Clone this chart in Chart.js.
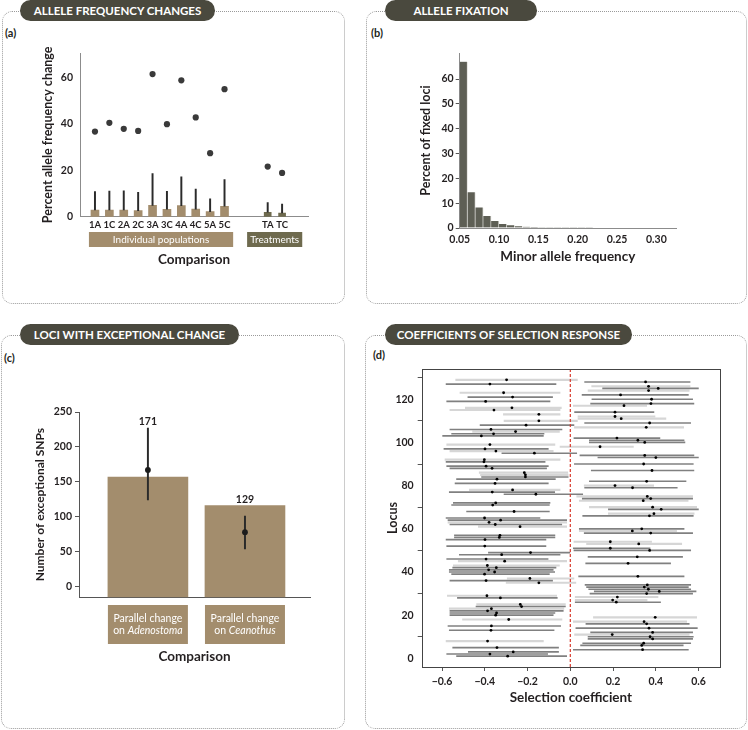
<!DOCTYPE html>
<html>
<head>
<meta charset="utf-8">
<script src="https://cdn.jsdelivr.net/npm/chart.js@4.4.1/dist/chart.umd.min.js"></script>
<style>
  body { margin: 0; width: 748px; height: 730px; background: #fff; position: relative; overflow: hidden; font-family: Lato, sans-serif; color: #231f20; }
  .panel { position: absolute; box-sizing: border-box; border: 1px dotted #9a9a9a; border-radius: 10px; }
  .pill { position: absolute; height: 21px; line-height: 21px; border-radius: 11px; background: #4a493e; color: #fff; font-size: 11.5px; font-weight: bold; text-align: center; }
  .tag { position: absolute; font-size: 11px; font-weight: bold; }
  canvas { position: absolute; }
</style>
</head>
<body>
<div class="panel" style="left:2px;top:11px;width:343px;height:293px"></div>
<div class="panel" style="left:366px;top:11px;width:381px;height:293px"></div>
<div class="panel" style="left:1px;top:335px;width:344px;height:394px"></div>
<div class="panel" style="left:365px;top:335px;width:382px;height:394px"></div>

<div class="pill" style="left:20px;top:0;width:195px">ALLELE FREQUENCY CHANGES</div>
<div class="pill" style="left:385px;top:0;width:152px">ALLELE FIXATION</div>
<div class="pill" style="left:20px;top:324px;width:219px">LOCI WITH EXCEPTIONAL CHANGE</div>
<div class="pill" style="left:385px;top:324px;width:247px">COEFFICIENTS OF SELECTION RESPONSE</div>

<div class="tag" style="left:5px;top:26px">(a)</div>
<div class="tag" style="left:371px;top:26px">(b)</div>
<div class="tag" style="left:4px;top:351px">(c)</div>
<div class="tag" style="left:373px;top:348px">(d)</div>

<canvas id="chart-a" width="344" height="280" style="left:0;top:22px"></canvas>
<canvas id="chart-b" width="380" height="280" style="left:366px;top:22px"></canvas>
<canvas id="chart-c" width="343" height="382" style="left:1px;top:346px"></canvas>
<canvas id="chart-d" width="381" height="382" style="left:365px;top:346px"></canvas>

<script>
// (a) allele frequency change per comparison
const popLabels = ['1A', '1C', '2A', '2C', '3A', '3C', '4A', '4C', '5A', '5C']
const popMean = [2.9, 2.9, 2.9, 2.6, 4.9, 3.2, 4.8, 3.3, 2.2, 4.5]
const popUpper = [10.8, 11.1, 11.2, 10.5, 18.6, 10.9, 17.2, 11.9, 7.7, 16.0]
const popMax = [36.7, 40.5, 37.9, 37.0, 61.5, 39.9, 58.8, 42.8, 27.4, 55.0]
const trtLabels = ['TA', 'TC']
const trtMean = [1.9, 1.6]
const trtUpper = [6.1, 5.4]
const trtMax = [21.6, 18.9]
const yTicksA = [0, 20, 40, 60]

// (b) allele fixation histogram (bin left edges, % of fixed loci)
const mafBins = [0.05, 0.06, 0.07, 0.08, 0.09, 0.10, 0.11, 0.12, 0.13, 0.14, 0.15, 0.16, 0.17,
  0.18, 0.19, 0.20, 0.21, 0.22, 0.23, 0.24, 0.25, 0.26, 0.27, 0.28, 0.29, 0.30]
const fixedPct = [67, 14.4, 8.3, 4.8, 2.8, 1.6, 1.1, 0.7, 0.5, 0.4, 0.35, 0.3, 0.3,
  0.3, 0.3, 0.3, 0.3, 0.25, 0.25, 0.25, 0.25, 0.2, 0.2, 0.2, 0.2, 0.2]
const xTicksB = [0.05, 0.10, 0.15, 0.20, 0.25, 0.30]
const yTicksB = [0, 10, 20, 30, 40, 50, 60]

// (c) loci with exceptional change
const hostNames = ['Adenostoma', 'Ceanothus']
const obsSNPs = [157, 116]
const expMean = [167, 78]
const expLo = [124, 54]
const expHi = [227, 101]
const countLabels = ['171', '129']
const yTicksC = [0, 50, 100, 150, 200, 250]

// (d) selection coefficients per locus (estimate, interval, shade l = light / d = dark)
const locus = [129, 128, 127, 126, 125, 124, 123, 122, 121, 120, 119, 118, 117, 116, 115, 114, 113, 112, 111, 110,
  109, 108, 107, 106, 105, 104, 103, 102, 101, 100, 99, 98, 97, 96, 95, 94, 93, 92, 91, 90,
  89, 88, 87, 86, 85, 84, 83, 82, 81, 80, 79, 78, 77, 76, 75, 74, 73, 72, 71, 70,
  69, 68, 67, 66, 65, 64, 63, 62, 61, 60, 59, 58, 57, 56, 55, 54, 53, 52, 51, 50,
  49, 48, 47, 46, 45, 44, 43, 42, 41, 40, 39, 38, 37, 36, 35, 34, 33, 32, 31, 30,
  29, 28.4, 28, 27, 26, 25, 24, 23, 22, 21, 20, 19, 18, 17, 16, 15, 14, 13, 12, 11,
  10, 9, 8, 7, 6, 5, 4, 3, 2, 1]
const selCoef = [-0.298, 0.352, -0.376, 0.366, 0.411, 0.366, -0.312, 0.235, -0.27, 0.38,
  -0.396, 0.377, 0.251, -0.273, -0.357, 0.209, -0.147, 0.209, 0.238, -0.147,
  0.371, -0.207, 0.355, -0.371, -0.256, -0.359, -0.416, 0.218, 0.316, 0.348,
  -0.376, 0.139, -0.399, -0.348, -0.168, 0.348, 0.4, -0.402, -0.404, 0.343,
  -0.394, -0.366, 0.382, -0.215, -0.21, -0.21, -0.343, 0.357, -0.352, 0.209,
  0.291, -0.27, -0.365, -0.161, 0.36, 0.376, 0.341, -0.349, -0.363, 0.385,
  0.425, -0.263, 0.391, 0.37, -0.401, -0.326, -0.38, -0.351, -0.235, 0.334,
  0.29, 0.376, -0.329, -0.332, -0.399, 0.187, 0.32, -0.4, 0.187, 0.371,
  -0.186, -0.321, 0.313, -0.394, -0.307, 0.27, -0.388, -0.346, -0.382, -0.354,
  -0.401, 0.316, -0.189, -0.394, -0.147, 0.36, 0.346, 0.365, 0.416, 0.357,
  -0.39, 0.22, -0.327, 0.198, 0.215, -0.234, -0.228, -0.369, -0.387, -0.345,
  -0.349, 0.397, -0.288, 0.345, 0.357, -0.369, 0.368, -0.371, 0.385, 0.196,
  0.373, 0.385, -0.387, 0.343, 0.334, -0.343, 0.338, -0.267, -0.376, -0.293]
const selLo = [-0.536, 0.067, -0.581, 0.10, 0.151, 0.083, -0.516, 0.055, -0.479, 0.101,
  -0.578, 0.095, 0.014, -0.491, -0.563, 0.02, -0.313, 0.036, 0.036, -0.31,
  0.067, -0.422, 0.019, -0.563, -0.457, -0.555, -0.597, 0.017, 0.089, 0.089,
  -0.578, -0.048, -0.591, -0.563, -0.32, 0.045, 0.129, -0.586, -0.581, 0.019,
  -0.578, -0.563, 0.098, -0.426, -0.42, -0.415, -0.532, 0.089, -0.539, 0.065,
  0.067, -0.472, -0.566, -0.31, 0.03, 0.056, 0.042, -0.547, -0.555, 0.089,
  0.178, -0.485, 0.178, 0.058, -0.581, -0.572, -0.572, -0.563, -0.43, 0.042,
  0.042, 0.065, -0.542, -0.542, -0.581, 0.017, 0.076, -0.578, 0.014, 0.017,
  -0.383, -0.519, 0.083, -0.578, -0.524, 0.072, -0.547, -0.55, -0.566, -0.566,
  -0.555, 0.039, -0.295, -0.563, -0.30, 0.069, 0.076, 0.086, 0.112, 0.092,
  -0.575, 0.023, -0.528, 0.023, 0.023, -0.438, -0.441, -0.566, -0.563, -0.563,
  -0.563, 0.108, -0.504, 0.014, 0.073, -0.572, 0.026, -0.566, 0.095, 0.02,
  0.083, 0.083, -0.581, 0.058, 0.048, -0.55, 0.014, -0.477, -0.578, -0.532]
const selHi = [0.033, 0.56, -0.067, 0.56, 0.599, 0.556, -0.048, 0.552, -0.083, 0.572,
  -0.095, 0.578, 0.357, -0.042, -0.048, 0.391, -0.048, 0.396, 0.447, 0.033,
  0.563, 0.017, 0.53, -0.039, -0.051, -0.123, -0.126, 0.419, 0.532, 0.536,
  -0.072, 0.295, -0.103, -0.08, 0.03, 0.578, 0.599, -0.048, -0.118, 0.575,
  -0.103, -0.111, 0.578, -0.012, -0.01, -0.01, -0.07, 0.541, -0.103, 0.39,
  0.5, -0.048, -0.073, 0.058, 0.572, 0.572, 0.551, -0.095, -0.098, 0.591,
  0.599, -0.098, 0.579, 0.575, -0.142, -0.017, -0.017, -0.04, -0.017, 0.532,
  0.497, 0.572, -0.072, -0.072, -0.114, 0.38, 0.521, -0.114, 0.373, 0.563,
  -0.002, -0.048, 0.525, -0.104, -0.017, 0.469, -0.051, -0.067, -0.08, -0.073,
  -0.098, 0.532, 0.017, -0.083, 0.026, 0.563, 0.552, 0.563, 0.588, 0.572,
  -0.064, 0.41, -0.061, 0.359, 0.422, -0.023, -0.023, -0.03, -0.033, -0.072,
  -0.08, 0.591, -0.039, 0.544, 0.556, -0.045, 0.594, -0.076, 0.572, 0.556,
  0.575, 0.572, -0.126, 0.563, 0.528, -0.055, 0.552, -0.055, -0.106, -0.017]
const selShade = ('lddldllddd' + 'ddllldllll' + 'ddldlddddd' + 'lldldddldd' + 'dddllddddl' +
  'dlddldlddl' + 'ddldddldld' + 'lddddllddd' + 'ddddldlddd' + 'ddldlddddd' +
  'lldldldldd' + 'dllldddddl' + 'ddlddddddd').split('')
const refLineX = 0
const xTicksD = [-0.6, -0.4, -0.2, 0, 0.2, 0.4, 0.6]
const yTicksD = [0, 20, 40, 60, 80, 100, 120]

// ---- shared look
const TAN = '#a38d6d', OLIVE = '#6e6a4e', HIST = '#5e5f55', INK = '#231f20', AXIS = '#8c8c8c'
Chart.defaults.font.family = 'Lato, sans-serif'
Chart.defaults.color = INK
Chart.defaults.animation = false
Chart.defaults.plugins.legend.display = false
Chart.defaults.plugins.tooltip.enabled = false

const tickFont = { size: 10.5, weight: 'bold' }
const titleFont = { size: 13.5, weight: 'bold' }
const yTitleFont = { size: 12.5, weight: 'bold' }

function el(id) { return document.getElementById(id) }
const fixWidth = w => s => { s.width = w }
const fixHeight = h => s => { s.height = h }
const setTicks = values => s => { s.ticks = values.map(v => ({ value: v })) }
const noGrid = { display: false, drawTicks: false }
const tickMarks = { display: true, drawOnChartArea: false, drawTicks: true, tickLength: 4, color: '#555' }

// Filled boxes under an axis, with centred white text (parts may be italic)
const labelBoxes = {
  id: 'labelBoxes',
  afterDraw(chart, _args, opts) {
    if (!opts.boxes) return
    const { ctx, scales: { x } } = chart
    ctx.save()
    opts.boxes.forEach(b => {
      let left, right
      if (b.to != null) { left = x.getPixelForValue(b.from); right = x.getPixelForValue(b.to) }
      else { left = x.getPixelForValue(b.from) - b.width / 2; right = left + b.width }
      ctx.fillStyle = b.color
      ctx.fillRect(left, opts.top, right - left, opts.height)
      ctx.fillStyle = '#fff'
      ctx.textBaseline = 'middle'
      ctx.textAlign = 'left'
      const lh = opts.lineHeight || 12
      const y0 = opts.top + opts.height / 2 - (b.lines.length - 1) * lh / 2
      b.lines.forEach((parts, k) => {
        const fonts = parts.map(p => `${p[1] ? 'italic ' : ''}${opts.fontSize}px Lato, sans-serif`)
        const widths = parts.map((p, j) => { ctx.font = fonts[j]; return ctx.measureText(p[0]).width })
        let cx = (left + right) / 2 - widths.reduce((a, w) => a + w, 0) / 2
        parts.forEach((p, j) => { ctx.font = fonts[j]; ctx.fillText(p[0], cx, y0 + k * lh); cx += widths[j] })
      })
    })
    ctx.restore()
  }
}

// ---- (a)
const gapA = 2                       // empty slots between populations and treatments
const xA = i => i < popLabels.length ? i : i + gapA
const allLabels = [...popLabels, ...trtLabels]
const allMean = [...popMean, ...trtMean]
const allUpper = [...popUpper, ...trtUpper]
const allMax = [...popMax, ...trtMax]
const labelAt = {}
allLabels.forEach((l, i) => { labelAt[xA(i)] = l })

new Chart(el('chart-a'), {
  type: 'bar',
  data: {
    datasets: [
      { data: popMean.map((v, i) => ({ x: xA(i), y: v })), backgroundColor: TAN, barThickness: 8, grouped: false, order: 3 },
      { data: trtMean.map((v, i) => ({ x: xA(popLabels.length + i), y: v })), backgroundColor: OLIVE, barThickness: 7, grouped: false, order: 3 },
      { data: allMean.map((v, i) => ({ x: xA(i), y: [v, allUpper[i]] })), backgroundColor: '#2b2b2b', barThickness: 1.3, grouped: false, order: 2 },
      { type: 'scatter', data: allMax.map((v, i) => ({ x: xA(i), y: v })), pointRadius: 3.1, backgroundColor: '#3a3a3a', borderWidth: 0, order: 1 }
    ]
  },
  options: {
    responsive: false,
    layout: { padding: { top: 31, right: 36, left: 0, bottom: 0 } },
    scales: {
      x: {
        type: 'linear', min: -1.04, max: 14.8, offset: false,
        grid: noGrid, border: { color: AXIS },
        afterBuildTicks: setTicks(Object.keys(labelAt).map(Number)),
        ticks: { padding: 3, font: { size: 9.5, weight: 'bold' }, color: INK, autoSkip: false, maxRotation: 0, callback: v => labelAt[v] },
        title: { display: true, text: 'Comparison', font: titleFont, color: INK, padding: { top: 0, bottom: 34 } },
        afterFit: fixHeight(85.3)
      },
      y: {
        min: 0, max: 70.6,
        grid: noGrid, border: { color: AXIS },
        afterBuildTicks: setTicks(yTicksA),
        ticks: { padding: 7, font: tickFont, color: INK },
        title: { display: true, text: 'Percent allele frequency change', font: yTitleFont, color: INK, padding: { top: 40, bottom: 0 } },
        afterFit: fixWidth(80)
      }
    },
    plugins: {
      labelBoxes: {
        top: 210, height: 15, fontSize: 10,
        boxes: [
          { from: -0.42, to: 9.6, color: TAN, lines: [[['Individual populations']]] },
          { from: 10.57, to: 14.4, color: OLIVE, lines: [[['Treatments']]] }
        ]
      }
    }
  },
  plugins: [labelBoxes]
})

// ---- (b)
const binW = mafBins[1] - mafBins[0]
new Chart(el('chart-b'), {
  type: 'bar',
  data: {
    datasets: [{
      data: mafBins.map((b, i) => ({ x: b + binW / 2, y: fixedPct[i] })),
      backgroundColor: HIST, borderColor: '#e4e4e0', borderWidth: { left: 0, right: 1, top: 0, bottom: 0 },
      barPercentage: 1, categoryPercentage: 1
    }]
  },
  options: {
    responsive: false,
    layout: { padding: { top: 31, right: 70, left: 0, bottom: 0 } },
    scales: {
      x: {
        type: 'linear', min: 0.05, max: 0.325, offset: false,
        grid: noGrid, border: { color: AXIS },
        afterBuildTicks: setTicks(xTicksB),
        ticks: { padding: 5, font: tickFont, color: INK, maxRotation: 0, callback: v => v.toFixed(2) },
        title: { display: true, text: 'Minor allele frequency', font: titleFont, color: INK, padding: { top: 0, bottom: 37 } },
        afterFit: fixHeight(74)
      },
      y: {
        min: 0, max: 70.5,
        grid: tickMarks, border: { color: AXIS },
        afterBuildTicks: setTicks(yTicksB),
        ticks: { padding: 2, font: tickFont, color: INK },
        title: { display: true, text: 'Percent of fixed loci', font: yTitleFont, color: INK, padding: { top: 52, bottom: 0 } },
        afterFit: fixWidth(93.7)
      }
    }
  }
})

// ---- (c)
const yMinC = -15.2
const valueLabels = {
  id: 'valueLabels',
  afterDatasetsDraw(chart) {
    const { ctx, scales: { x, y } } = chart
    ctx.save()
    ctx.font = 'bold 10.5px Lato, sans-serif'
    ctx.fillStyle = INK
    ctx.textAlign = 'center'
    ctx.textBaseline = 'middle'
    countLabels.forEach((t, i) => {
      const top = y.getPixelForValue(Math.max(obsSNPs[i], expHi[i]))
      ctx.fillText(t, x.getPixelForValue(i), top - 6.5)
    })
    ctx.restore()
  }
}

new Chart(el('chart-c'), {
  type: 'bar',
  data: {
    datasets: [
      { data: obsSNPs.map((v, i) => ({ x: i, y: v })), backgroundColor: TAN, barThickness: 80, base: yMinC, grouped: false, order: 3 },
      { data: expMean.map((v, i) => ({ x: i, y: [expLo[i], expHi[i]] })), backgroundColor: '#2a2a2a', barThickness: 1.3, grouped: false, order: 2 },
      { type: 'scatter', data: expMean.map((v, i) => ({ x: i, y: v })), pointRadius: 2.9, backgroundColor: '#1c1c1c', borderWidth: 0, order: 1 }
    ]
  },
  options: {
    responsive: false,
    layout: { padding: { top: 66, right: 34, left: 0, bottom: 0 } },
    scales: {
      x: {
        type: 'linear', min: -0.71, max: 1.67, offset: false,
        grid: noGrid, border: { color: '#555' },
        afterBuildTicks: setTicks([]),
        ticks: { display: false },
        title: { display: true, text: 'Comparison', font: titleFont, color: INK, padding: { top: 0, bottom: 63 } },
        afterFit: fixHeight(130.7)
      },
      y: {
        min: yMinC, max: 250,
        grid: tickMarks, border: { color: '#555' },
        afterBuildTicks: setTicks(yTicksC),
        ticks: { padding: 3, font: tickFont, color: INK },
        title: { display: true, text: 'Number of exceptional SNPs', font: { size: 12, weight: 'bold' }, color: INK, padding: { top: 32, bottom: 0 } },
        afterFit: fixWidth(78)
      }
    },
    plugins: {
      labelBoxes: {
        top: 259, height: 39, fontSize: 10.5, lineHeight: 12,
        boxes: hostNames.map((h, i) => ({
          from: i, width: 80, color: TAN,
          lines: [[['Parallel change']], [['on '], [h, true]]]
        }))
      }
    }
  },
  plugins: [labelBoxes, valueLabels]
})

// ---- (d)
const frame = {
  id: 'frame',
  afterDraw(chart) {
    const { ctx, chartArea: a } = chart
    ctx.save()
    ctx.strokeStyle = '#444'
    ctx.lineWidth = 1
    ctx.strokeRect(Math.round(a.left) + 0.5, Math.round(a.top) + 0.5, Math.round(a.width), Math.round(a.height))
    ctx.restore()
  }
}
const idxD = locus.map((_, i) => i)
const intervals = shade => idxD.filter(i => selShade[i] === shade).map(i => ({ y: locus[i], x: [selLo[i], selHi[i]] }))
const fmtD = v => (v < 0 ? '\u2212' : '') + Math.abs(v).toFixed(1)

new Chart(el('chart-d'), {
  type: 'scatter',
  data: {
    datasets: [
      { type: 'bar', indexAxis: 'y', data: intervals('l'), backgroundColor: '#d6d6d6', barThickness: 1.5, grouped: false, order: 5 },
      { type: 'bar', indexAxis: 'y', data: intervals('d'), backgroundColor: '#808080', barThickness: 1, grouped: false, order: 4 },
      { type: 'scatter', showLine: true, data: [{ x: refLineX, y: -4 }, { x: refLineX, y: 134 }], borderColor: '#d8392c', borderWidth: 1.2, borderDash: [3, 2], pointRadius: 0, order: 2 },
      { type: 'scatter', data: locus.map((l, i) => ({ x: selCoef[i], y: l })), pointRadius: 1.4, backgroundColor: '#000', borderWidth: 0, order: 1 }
    ]
  },
  options: {
    responsive: false,
    layout: { padding: { top: 23, right: 26, left: 0, bottom: 0 } },
    scales: {
      x: {
        type: 'linear', min: -0.695, max: 0.70, offset: false,
        grid: tickMarks, border: { display: false },
        afterBuildTicks: setTicks(xTicksD),
        ticks: { padding: 4, font: tickFont, color: INK, maxRotation: 0, callback: fmtD },
        title: { display: true, text: 'Selection coefficient', font: titleFont, color: INK, padding: { top: 0, bottom: 22 } },
        afterFit: fixHeight(61)
      },
      y: {
        type: 'linear', min: -4, max: 134, offset: false,
        grid: tickMarks, border: { display: false },
        afterBuildTicks: setTicks(yTicksD),
        ticks: { padding: 4, font: tickFont, color: INK },
        title: { display: true, text: 'Locus', font: yTitleFont, color: INK, padding: { top: 20, bottom: 0 } },
        afterFit: fixWidth(56.7)
      }
    }
  },
  plugins: [frame]
})
</script>
</body>
</html>
